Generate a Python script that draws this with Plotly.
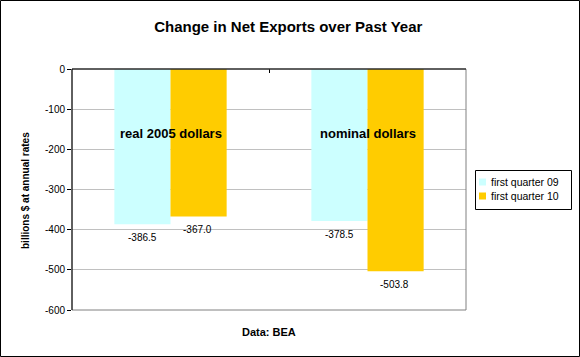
import plotly.graph_objects as go

categories = ["real 2005 dollars", "nominal dollars"]
series_names = ["first quarter 09", "first quarter 10"]
q09_values = [-386.5, -378.5]
q10_values = [-367.0, -503.8]
tick_values = [0, -100, -200, -300, -400, -500, -600]
tick_labels = ["0", "-100", "-200", "-300", "-400", "-500", "-600"]

W, H = 580, 357
L, R, T, B = 72, 114, 69, 47
pw, ph = W - L - R, H - T - B


def px(x):
    return (x - L) / pw


def py(y):
    return (H - B - y) / ph


colors = ["#CCFFFF", "#FFCC00"]
fig = go.Figure()
for name, vals, c in zip(series_names, [q09_values, q10_values], colors):
    fig.add_trace(go.Bar(x=categories, y=vals, name=name, marker_color=c,
                         marker_line_width=0, showlegend=False))

ann = []
# data labels
for i, vals in enumerate([q09_values, q10_values]):
    for j, v in enumerate(vals):
        ann.append(dict(x=j, y=v, text="%.1f" % v,
                        xref="x", yref="y", showarrow=False, yshift=-13,
                        font=dict(family="Arial", size=10, color="black"),
                        xshift=(-28.5 if i == 0 else 27)))
# category labels inside plot
for j, c in enumerate(categories):
    ann.append(dict(x=j, y=-160, text="<b>" + c + "</b>", xref="x", yref="y", showarrow=False,
                    font=dict(family="Arial", size=13, color="black")))
ann.append(dict(x=0.5, y=py(332), xref="paper", yref="paper", text="<b>Data: BEA</b>",
                showarrow=False, xanchor="center", yanchor="middle",
                font=dict(family="Arial", size=11, color="black")))
ann.append(dict(x=px(25), y=py(191), xref="paper", yref="paper",
                text="<b>billions $ at annual rates</b>", textangle=-90,
                xanchor="center", yanchor="middle",
                showarrow=False, font=dict(family="Arial", size=10, color="black")))

shapes = [
    dict(type="rect", xref="paper", yref="paper", x0=0, x1=1, y0=0, y1=1,
         line=dict(color="#808080", width=1), layer="above"),
    dict(type="line", xref="paper", yref="paper", x0=0, x1=1, y0=1, y1=1,
         line=dict(color="#000000", width=1), layer="above"),
    dict(type="line", xref="paper", yref="paper", x0=0, x1=0, y0=0, y1=1,
         line=dict(color="#000000", width=1), layer="above"),
    dict(type="rect", xref="paper", yref="paper",
         x0=px(0.5), x1=px(W - 0.5), y0=py(H - 0.5), y1=py(0.5),
         line=dict(color="#000000", width=1), layer="above"),
    # custom legend box
    dict(type="rect", xref="paper", yref="paper",
         x0=px(475.5), x1=px(571.5), y0=py(209.5), y1=py(170.5),
         line=dict(color="#000000", width=1), fillcolor="white", layer="above"),
]
for k, (name, c) in enumerate(zip(series_names, colors)):
    cy = 182 + 14 * k
    shapes.append(dict(type="rect", xref="paper", yref="paper",
                       x0=px(479), x1=px(486), y0=py(cy + 3.5), y1=py(cy - 3.5),
                       line=dict(width=0), fillcolor=c, layer="above"))
    ann.append(dict(x=px(489), y=py(cy), xref="paper", yref="paper", text=name,
                    xanchor="left", yanchor="middle", showarrow=False,
                    font=dict(family="Arial", size=10.5, color="black")))

fig.update_layout(
    width=W, height=H,
    margin=dict(l=L, r=R, t=T, b=B, autoexpand=False),
    paper_bgcolor="white", plot_bgcolor="white",
    barmode="group", bargap=0.43, bargroupgap=0,
    title=dict(text="<b>Change in Net Exports over Past Year</b>", x=0.497, y=1 - 27 / H,
               xanchor="center", yanchor="middle",
               font=dict(family="Arial", size=15, color="black")),
    xaxis=dict(side="top", showticklabels=False, tickmode="array",
               tickvals=[0.5], ticks="inside", ticklen=4, tickcolor="black",
               showgrid=False, zeroline=False, range=[-0.5, 1.5]),
    yaxis=dict(range=[-600, 0], tickmode="array", tickvals=tick_values, ticktext=tick_labels,
               ticks="outside", ticklen=4, tickcolor="black", showgrid=True,
               gridcolor="#C0C0C0", gridwidth=1, zeroline=False,
               tickfont=dict(family="Arial", size=10, color="black")),
    annotations=ann, shapes=shapes, showlegend=False,
)
fig.write_html("out.html", config={"displayModeBar": False},
               post_script="document.body.style.margin='0';document.body.style.padding='0';")
